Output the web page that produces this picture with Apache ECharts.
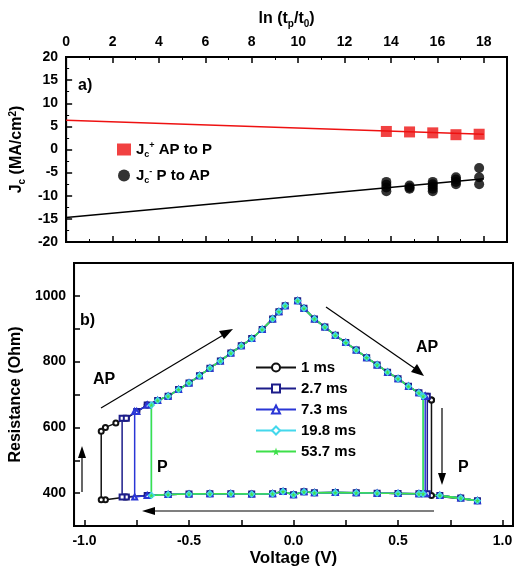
<!DOCTYPE html>
<html>
<head>
<meta charset="UTF-8">
<script src="https://cdn.jsdelivr.net/npm/echarts@6/dist/echarts.min.js"></script>
<style>
  html, body { margin: 0; padding: 0; background: #fff; }
  #chart { width: 520px; height: 570px; }
</style>
</head>
<body>
<div id="chart"></div>
<script>
// panel a) data
var lnX = [13.8, 14.8, 15.8, 16.8, 17.8];
var jcPlus = [3.9, 3.8, 3.6, 3.2, 3.3];
var jcMinus = [
  [13.8, -7.0], [13.8, -7.6], [13.8, -8.2], [13.8, -9.0],
  [14.8, -7.8], [14.8, -8.2], [14.8, -8.5],
  [15.8, -7.0], [15.8, -7.5], [15.8, -8.0], [15.8, -8.5], [15.8, -9.0],
  [16.8, -6.0], [16.8, -6.5], [16.8, -7.0], [16.8, -7.5],
  [17.8, -4.0], [17.8, -6.0], [17.8, -7.5]
];
var fitPlus = [[0, 6.3], [18, 3.3]];
var fitMinus = [[0, -14.7], [18, -6.3]];

// panel b) branches read from the loops
var upperLeft = [[-0.94, 588], [-0.9, 600], [-0.85, 613], [-0.8, 628], [-0.75, 648], [-0.7, 668], [-0.65, 682],
  [-0.6, 695], [-0.55, 715], [-0.5, 735], [-0.45, 757], [-0.4, 780], [-0.35, 802], [-0.3, 826],
  [-0.25, 848], [-0.2, 870], [-0.15, 898], [-0.1, 930], [-0.07, 952], [-0.04, 970]];
var upperRight = [[0.02, 985], [0.05, 962], [0.1, 930], [0.15, 905], [0.2, 880], [0.25, 858], [0.3, 835],
  [0.35, 812], [0.4, 790], [0.45, 768], [0.5, 748], [0.55, 725], [0.6, 705], [0.63, 695], [0.66, 683]];
var lower = [[0.88, 377], [0.8, 385], [0.7, 393], [0.6, 398], [0.5, 399], [0.4, 400], [0.3, 401], [0.2, 402],
  [0.1, 401], [0.05, 404], [0.0, 395], [-0.05, 405], [-0.1, 398], [-0.2, 397], [-0.3, 398], [-0.4, 398],
  [-0.5, 397], [-0.6, 396], [-0.7, 393], [-0.8, 388], [-0.9, 380]];
var pulseNames = ['1 ms', '2.7 ms', '7.3 ms', '19.8 ms', '53.7 ms'];
var switchPos = [0.66, 0.64, 0.63, 0.62, 0.62];
var switchNeg = [-0.92, -0.82, -0.76, -0.68, -0.68];
var pulseColors = ['#111111', '#1c1c8a', '#2a36d6', '#44d8ec', '#3ee04a'];
var pulseSymbols = ['emptyCircle', 'emptyRect', 'emptyTriangle', 'emptyDiamond',
  'path://M50,0 L61,35 L98,35 L68,57 L79,91 L50,70 L21,91 L32,57 L2,35 L39,35 Z'];

function nearest(arr, v) {
  var best = arr[0];
  arr.forEach(function (p) { if (Math.abs(p[0] - v) < Math.abs(best[0] - v)) best = p; });
  return best[1];
}
function loop(i) {
  var sp = switchPos[i], sn = switchNeg[i], d = [];
  upperRight.forEach(function (p) { if (p[0] <= sp) d.push(p); });
  d.push([sp, nearest(upperRight, sp)]);
  d.push([sp, nearest(lower, sp)]);
  lower.forEach(function (p) { if (p[0] >= sn) d.push(p); });
  d.push([sn, nearest(lower, sn)]);
  d.push([sn, nearest(upperLeft, sn)]);
  upperLeft.forEach(function (p) { if (p[0] >= sn) d.push(p); });
  return d;
}

var font = 'Liberation Sans';
var lab = { color: '#000', fontWeight: 'bold', fontSize: 14, fontFamily: font };
function frameAxis(extra) {
  return Object.assign({
    axisLine: { show: true, onZero: false, lineStyle: { color: '#000', width: 2 } },
    axisTick: { inside: true, length: 6, lineStyle: { color: '#000', width: 1.5 } },
    minorTick: { show: true, splitNumber: 2, length: 3, lineStyle: { color: '#000' } },
    splitLine: { show: false },
    axisLabel: lab
  }, extra);
}
var richA = {
  b: { fontSize: 15, fontWeight: 'bold', fontFamily: font, color: '#000' },
  s: { fontSize: 9, fontWeight: 'bold', fontFamily: font, color: '#000', padding: [10, 0, 0, 0] },
  p: { fontSize: 9, fontWeight: 'bold', fontFamily: font, color: '#000', padding: [0, 0, 8, 0] }
};

var series = [
  { name: 'Jc+', type: 'scatter', xAxisIndex: 0, yAxisIndex: 0, symbol: 'rect', symbolSize: 11,
    itemStyle: { color: '#ee1111' }, data: lnX.map(function (x, k) { return [x, jcPlus[k]]; }) },
  { name: 'Jc-', type: 'scatter', xAxisIndex: 0, yAxisIndex: 0, symbol: 'circle', symbolSize: 10,
    itemStyle: { color: '#000' }, data: jcMinus },
  { type: 'line', xAxisIndex: 0, yAxisIndex: 0, symbol: 'none', lineStyle: { color: '#ee1111', width: 1.5 }, data: fitPlus },
  { type: 'line', xAxisIndex: 0, yAxisIndex: 0, symbol: 'none', lineStyle: { color: '#000', width: 1.5 }, data: fitMinus }
];
pulseNames.forEach(function (n, i) {
  series.push({ name: n, type: 'line', xAxisIndex: 2, yAxisIndex: 1, symbol: pulseSymbols[i], symbolSize: 5,
    showAllSymbol: true, color: pulseColors[i], lineStyle: { width: 1.5 }, itemStyle: { borderWidth: 1 },
    data: loop(i) });
});

var chart = echarts.init(document.getElementById('chart'));
chart.setOption({
  animation: false,
  textStyle: { fontFamily: font },
  grid: [
    { left: 62, right: 13, top: 57, height: 185, show: true, borderColor: '#000', borderWidth: 2 },
    { left: 61, right: 7, top: 263, height: 263, show: true, borderColor: '#000', borderWidth: 2 }
  ],
  xAxis: [
    frameAxis({ gridIndex: 0, type: 'value', position: 'top', min: 0, max: 19, interval: 2,
      axisLabel: Object.assign({}, lab, { formatter: function (v) { return v <= 18 ? v : ''; } }),
      name: '{b|ln (t}{s|p}{b|/t}{s|0}{b|)}', nameLocation: 'middle', nameGap: 28,
      nameTextStyle: { rich: { b: { fontSize: 16, fontWeight: 'bold', fontFamily: font, color: '#000' },
        s: { fontSize: 10, fontWeight: 'bold', fontFamily: font, color: '#000', padding: [10, 0, 0, 0] } } } }),
    frameAxis({ gridIndex: 0, type: 'value', position: 'bottom', min: 0, max: 19, interval: 2,
      axisLabel: { show: false } }),
    frameAxis({ gridIndex: 1, type: 'value', min: -1.05, max: 1.05,
      axisTick: { inside: true, length: 6, customValues: [-1, -0.75, -0.5, -0.25, 0, 0.25, 0.5, 0.75, 1],
        lineStyle: { color: '#000', width: 1.5 } },
      minorTick: { show: false },
      axisLabel: Object.assign({}, lab, { customValues: [-1, -0.5, 0, 0.5, 1],
        formatter: function (v) { return v.toFixed(1); } }),
      name: 'Voltage (V)', nameLocation: 'middle', nameGap: 24,
      nameTextStyle: { fontSize: 17, fontWeight: 'bold', color: '#000', fontFamily: font } })
  ],
  yAxis: [
    frameAxis({ gridIndex: 0, type: 'value', min: -20, max: 20, interval: 5,
      name: '{b|J}{s|c}{b| (MA/cm}{p|2}{b|)}', nameLocation: 'middle', nameGap: 36,
      nameTextStyle: { rich: { b: { fontSize: 16, fontWeight: 'bold', fontFamily: font, color: '#000' },
        s: { fontSize: 10, fontWeight: 'bold', fontFamily: font, color: '#000', padding: [10, 0, 0, 0] },
        p: { fontSize: 10, fontWeight: 'bold', fontFamily: font, color: '#000', padding: [0, 0, 8, 0] } } } }),
    frameAxis({ gridIndex: 1, type: 'value', min: 300, max: 1100, interval: 100,
      axisLabel: Object.assign({}, lab, { formatter: function (v) { return v % 200 === 0 && v <= 1000 ? v : ''; } }),
      minorTick: { show: false },
      name: 'Resistance (Ohm)', nameLocation: 'middle', nameGap: 40,
      nameTextStyle: { fontSize: 16, fontWeight: 'bold', color: '#000', fontFamily: font } })
  ],
  legend: [
    { data: ['Jc+', 'Jc-'], orient: 'vertical', left: 112, top: 136, itemGap: 8, itemWidth: 14, itemHeight: 12,
      formatter: function (n) { return n === 'Jc+' ? '{b|J}{s|c}{p|+}{b| AP to P}' : '{b|J}{s|c}{p|-}{b| P to AP}'; },
      textStyle: { rich: richA } },
    { data: pulseNames, orient: 'vertical', left: 250, top: 355, itemGap: 6, itemWidth: 40, itemHeight: 10,
      textStyle: { fontSize: 15, fontWeight: 'bold', color: '#000', fontFamily: font } }
  ],
  graphic: [
    { type: 'text', left: 78, top: 78, style: { text: 'a)', fontSize: 16, fontWeight: 'bold', fontFamily: font } },
    { type: 'text', left: 80, top: 313, style: { text: 'b)', fontSize: 16, fontWeight: 'bold', fontFamily: font } },
    { type: 'text', left: 93, top: 372, style: { text: 'AP', fontSize: 16, fontWeight: 'bold', fontFamily: font } },
    { type: 'text', left: 416, top: 340, style: { text: 'AP', fontSize: 16, fontWeight: 'bold', fontFamily: font } },
    { type: 'text', left: 157, top: 460, style: { text: 'P', fontSize: 16, fontWeight: 'bold', fontFamily: font } },
    { type: 'text', left: 458, top: 460, style: { text: 'P', fontSize: 16, fontWeight: 'bold', fontFamily: font } },
    { type: 'line', shape: { x1: 101, y1: 408, x2: 225, y2: 334 }, style: { stroke: '#000', lineWidth: 1.2 } },
    { type: 'polygon', shape: { points: [[233, 329], [219, 331], [224, 339]] }, style: { fill: '#000' } },
    { type: 'line', shape: { x1: 326, y1: 307, x2: 417, y2: 370 }, style: { stroke: '#000', lineWidth: 1.2 } },
    { type: 'polygon', shape: { points: [[424, 376], [411, 372], [417, 364]] }, style: { fill: '#000' } },
    { type: 'line', shape: { x1: 442, y1: 408, x2: 442, y2: 478 }, style: { stroke: '#000', lineWidth: 1.2 } },
    { type: 'polygon', shape: { points: [[442, 485], [438, 473], [446, 473]] }, style: { fill: '#000' } },
    { type: 'line', shape: { x1: 82, y1: 492, x2: 82, y2: 454 }, style: { stroke: '#000', lineWidth: 1.2 } },
    { type: 'polygon', shape: { points: [[82, 446], [78, 458], [86, 458]] }, style: { fill: '#000' } },
    { type: 'line', shape: { x1: 434, y1: 511, x2: 150, y2: 511 }, style: { stroke: '#000', lineWidth: 1.2 } },
    { type: 'polygon', shape: { points: [[142, 511], [155, 507], [155, 515]] }, style: { fill: '#000' } }
  ],
  series: series
});
</script>
</body>
</html>
